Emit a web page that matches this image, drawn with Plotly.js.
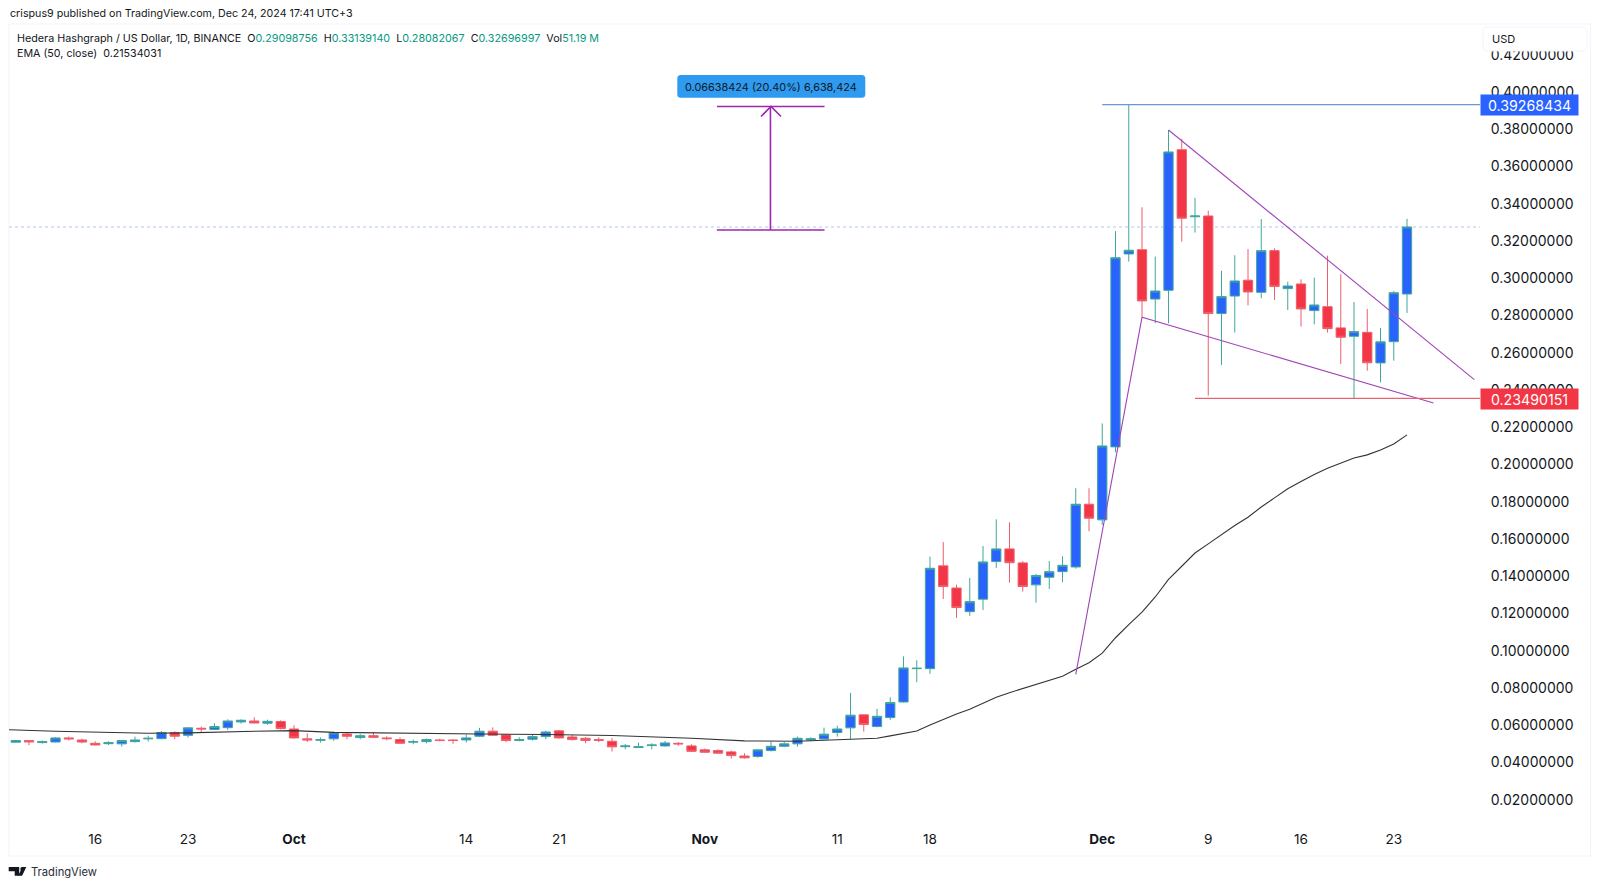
<!DOCTYPE html>
<html>
<head>
<meta charset="utf-8">
<script src="https://cdn.plot.ly/plotly-3.0.1.min.js"></script>
<style>html,body{margin:0;padding:0;background:#fff;overflow:hidden}#chart{width:1600px;height:888px}</style>
</head>
<body>
<div id="chart"></div>
<script>
const dates = ["2024-09-10","2024-09-11","2024-09-12","2024-09-13","2024-09-14","2024-09-15","2024-09-16","2024-09-17","2024-09-18","2024-09-19","2024-09-20","2024-09-21","2024-09-22","2024-09-23","2024-09-24","2024-09-25","2024-09-26","2024-09-27","2024-09-28","2024-09-29","2024-09-30",
"2024-10-01","2024-10-02","2024-10-03","2024-10-04","2024-10-05","2024-10-06","2024-10-07","2024-10-08","2024-10-09","2024-10-10","2024-10-11","2024-10-12","2024-10-13","2024-10-14","2024-10-15","2024-10-16","2024-10-17","2024-10-18","2024-10-19","2024-10-20","2024-10-21","2024-10-22","2024-10-23","2024-10-24","2024-10-25","2024-10-26","2024-10-27","2024-10-28","2024-10-29","2024-10-30","2024-10-31",
"2024-11-01","2024-11-02","2024-11-03","2024-11-04","2024-11-05","2024-11-06","2024-11-07","2024-11-08","2024-11-09","2024-11-10","2024-11-11","2024-11-12","2024-11-13","2024-11-14","2024-11-15","2024-11-16","2024-11-17","2024-11-18","2024-11-19","2024-11-20","2024-11-21","2024-11-22","2024-11-23","2024-11-24","2024-11-25","2024-11-26","2024-11-27","2024-11-28","2024-11-29","2024-11-30",
"2024-12-01","2024-12-02","2024-12-03","2024-12-04","2024-12-05","2024-12-06","2024-12-07","2024-12-08","2024-12-09","2024-12-10","2024-12-11","2024-12-12","2024-12-13","2024-12-14","2024-12-15","2024-12-16","2024-12-17","2024-12-18","2024-12-19","2024-12-20","2024-12-21","2024-12-22","2024-12-23","2024-12-24"];
const opens = [.0503,.0512,.0501,.0504,.0526,.0515,.0497,.0495,.0494,.0506,.0521,.0522,.0555,.0540,.0578,.0571,.0581,.0612,.0617,.0605,.0614,
.0574,.0521,.0513,.0521,.0547,.0528,.0538,.0526,.0517,.0503,.0506,.0515,.0515,.0515,.0535,.0562,.0542,.0512,.0519,.0533,.0564,.0531,.0524,.0517,.0508,.0479,.0474,.0485,.0483,.0497,.0483,
.0462,.0458,.0451,.0429,.0426,.0458,.0481,.0494,.0515,.0520,.0555,.0580,.0650,.0587,.0635,.0719,.0898,.0898,.1450,.1331,.1204,.1271,.1473,.1541,.1466,.1348,.1389,.1419,.1444,.1781,
.1697,.2089,.3125,.3148,.2883,.2930,.3685,.3325,.3329,.2805,.2899,.2984,.2919,.3143,.2939,.2964,.2821,.2842,.2728,.2683,.2704,.2540,.2654,.29098756];
const highs = [.0515,.0513,.0512,.0531,.0533,.0522,.0508,.0508,.0515,.0533,.0538,.0563,.0562,.0583,.0587,.0605,.0626,.0626,.0637,.0624,.0621,
.0594,.0551,.0528,.0560,.0558,.0547,.0558,.0535,.0529,.0517,.0522,.0522,.0519,.0544,.0580,.0583,.0547,.0530,.0544,.0565,.0569,.0542,.0530,.0530,.0526,.0494,.0501,.0497,.0510,.0504,.0492,
.0469,.0465,.0458,.0444,.0465,.0508,.0504,.0533,.0530,.0581,.0592,.0768,.0651,.0682,.0744,.0964,.0943,.1500,.1578,.1349,.1385,.1557,.1700,.1684,.1476,.1407,.1476,.1501,.1867,.1867,
.2215,.3248,.3926843,.3376,.3111,.3791,.3743,.3427,.3358,.3035,.3118,.3152,.3313,.3155,.2976,.2989,.2998,.3116,.3016,.2867,.2830,.2728,.2926,.33139140];
const lows = [.0501,.0487,.0495,.0503,.0512,.0497,.0487,.0488,.0479,.0501,.0506,.0519,.0519,.0528,.0555,.0569,.0569,.0603,.0605,.0596,.0572,
.0522,.0504,.0501,.0510,.0519,.0519,.0526,.0513,.0494,.0492,.0497,.0508,.0494,.0501,.0530,.0537,.0503,.0508,.0512,.0519,.0522,.0512,.0497,.0504,.0453,.0465,.0472,.0465,.0479,.0483,.0451,
.0447,.0440,.0415,.0415,.0420,.0453,.0476,.0479,.0508,.0519,.0533,.0519,.0560,.0583,.0623,.0716,.0825,.0870,.1272,.1170,.1181,.1213,.1439,.1360,.1312,.1253,.1326,.1362,.1435,.1636,
.1670,.2060,.3084,.2788,.2753,.2753,.3191,.3240,.2364,.2529,.2703,.2849,.2887,.2878,.2824,.2735,.2747,.2703,.2534,.23490151,.2498,.2436,.2552,.28082067];
const closes = [.0512,.0504,.0506,.0526,.0521,.0504,.0488,.0501,.0512,.0515,.0524,.0555,.0535,.0580,.0574,.0587,.0617,.0621,.0606,.0615,.0576,
.0526,.0515,.0517,.0553,.0535,.0538,.0529,.0522,.0497,.0506,.0517,.0512,.0512,.0526,.0562,.0540,.0512,.0517,.0533,.0558,.0526,.0517,.0512,.0513,.0478,.0483,.0479,.0488,.0499,.0494,.0454,
.0449,.0444,.0431,.0419,.0462,.0481,.0494,.0524,.0522,.0546,.0574,.0648,.0598,.0642,.0716,.0902,.0900,.1437,.1339,.1226,.1258,.1471,.1541,.1467,.1339,.1398,.1419,.1453,.1781,.1706,
.2094,.3105,.3145,.2873,.2926,.3673,.3317,.3329,.2805,.2896,.2980,.2921,.3143,.2950,.2953,.2830,.2851,.2724,.2678,.2708,.2541,.2653,.2917,.32696997];

const emaDates = ["2024-09-09","2024-09-13","2024-09-20","2024-09-23","2024-09-28","2024-10-01","2024-10-04","2024-10-10","2024-10-15","2024-10-20","2024-10-25","2024-10-31","2024-11-04","2024-11-08","2024-11-09","2024-11-11","2024-11-12","2024-11-14","2024-11-15","2024-11-17","2024-11-18","2024-11-19","2024-11-20","2024-11-21","2024-11-22","2024-11-23","2024-11-24","2024-11-25","2024-11-26","2024-11-27","2024-11-28","2024-11-29","2024-11-30","2024-12-01","2024-12-02","2024-12-03","2024-12-04","2024-12-05","2024-12-06","2024-12-07","2024-12-08","2024-12-09","2024-12-10","2024-12-11","2024-12-12","2024-12-13","2024-12-14","2024-12-15","2024-12-16","2024-12-17","2024-12-18","2024-12-19","2024-12-20","2024-12-21","2024-12-22","2024-12-23","2024-12-24"];
const emaValues = [.0571,.0562,.0551,.0553,.0562,.0565,.0556,.0549,.0547,.0544,.0539,.0524,.0510,.0508,.0510,.0515,.0519,.0524,.0537,.0563,.0596,.0626,.0655,.0680,.0712,.0744,.0769,.0791,.0814,.0836,.0857,.0895,.0930,.0981,.1064,.1135,.1202,.1283,.1377,.1448,.1519,.1568,.1617,.1667,.1711,.1766,.1815,.1864,.1903,.1941,.1974,.2003,.2029,.2046,.2072,.2105,.21534031];

const upperWedgeDates = ["2024-12-06","2024-12-29 02:00"];
const upperWedgeValues = [.3791,.2450];
const lowerWedgeDates = ["2024-11-29","2024-12-04","2024-12-26"];
const lowerWedgeValues = [.0867,.2785,.2325];
const highLevelDates = ["2024-12-01","2024-12-29 12:14"];
const highLevel = .39268434;
const lowLevelDates = ["2024-12-08","2024-12-29 12:14"];
const lowLevel = .23490151;
const lastClose = .32696997;

const measureDates = ["2024-11-01 22:00","2024-11-10 01:00"];
const measureMidDate = "2024-11-05 23:00";
const measureBottom = .3254;
const measureTop = .3917;

const tickDates = ["2024-09-16","2024-09-23","2024-10-01","2024-10-14","2024-10-21","2024-11-01","2024-11-11","2024-11-18","2024-12-01","2024-12-09","2024-12-16","2024-12-23"];
const tickLabels = ["16","23","<b>Oct</b>","14","21","<b>Nov</b>","11","18","<b>Dec</b>","9","16","23"];
const priceTicks = [.02,.04,.06,.08,.10,.12,.14,.16,.18,.20,.22,.24,.26,.28,.30,.32,.34,.36,.38,.40,.42];

const L=9, R=1480, T=24, B=825;
const px = x => (x-L)/(R-L);
const py = y => 1-(y-T)/(B-T);
const FONT = 'Inter, "Liberation Sans", sans-serif';
const INK = '#131722';
const roundRect = (x0,y0,x1,y1,r) =>
  `M ${px(x0+r)} ${py(y0)} L ${px(x1-r)} ${py(y0)} Q ${px(x1)} ${py(y0)} ${px(x1)} ${py(y0+r)} L ${px(x1)} ${py(y1-r)} Q ${px(x1)} ${py(y1)} ${px(x1-r)} ${py(y1)} L ${px(x0+r)} ${py(y1)} Q ${px(x0)} ${py(y1)} ${px(x0)} ${py(y1-r)} L ${px(x0)} ${py(y0+r)} Q ${px(x0)} ${py(y0)} ${px(x0+r)} ${py(y0)} Z`;
const pathShape = (path,fill,line) => ({type:'path',xref:'paper',yref:'paper',path,fillcolor:fill,line:{color:line||'rgba(0,0,0,0)',width:line?1:0},layer:'above'});
const purple = '#a044b8';
const lineTrace = (x,y,color,width,dash) => ({type:'scatter',mode:'lines',x,y,hoverinfo:'skip',showlegend:false,cliponaxis:true,line:{color,width,dash:dash||'solid'}});

const traces = [
  {type:'candlestick',x:dates,open:opens,high:highs,low:lows,close:closes,hoverinfo:'skip',showlegend:false,whiskerwidth:0,
   increasing:{line:{color:'#3fa89b',width:1},fillcolor:'#2962ff'},
   decreasing:{line:{color:'#ee5f6b',width:1},fillcolor:'#f23645'}},
  lineTrace(emaDates,emaValues,'#333333',1.1),
  lineTrace(upperWedgeDates,upperWedgeValues,purple,1.1),
  lineTrace(lowerWedgeDates,lowerWedgeValues,purple,1.1),
  lineTrace(highLevelDates,highLevelDates.map(()=>highLevel),'#6a97dc',1.3),
  lineTrace(lowLevelDates,lowLevelDates.map(()=>lowLevel),'#e8636f',1.3),
  lineTrace(measureDates,measureDates.map(()=>measureTop),'#9c27b0',1.6),
  lineTrace(measureDates,measureDates.map(()=>measureBottom),'#9c27b0',1.6),
  lineTrace([measureMidDate,measureMidDate],[measureBottom,measureTop],'#9c27b0',1.6)
];

const green = c => `<span style="color:#089981">${c}</span>`;
const note = (text,x,y,size,extra) => Object.assign({xref:'paper',yref:'paper',x:px(x),y:py(y),text,showarrow:false,xanchor:'left',yanchor:'middle',align:'left',borderpad:0,font:{family:FONT,size,color:INK}},extra||{});
const tag = (text,yMid,bg) => ({xref:'paper',yref:'paper',x:px(1529.5),y:py(yMid),text,showarrow:false,xanchor:'center',yanchor:'middle',bgcolor:bg,width:97,height:20,borderpad:0,font:{family:FONT,size:14.2,color:'#ffffff'}});

const logoX=8.7, logoY=867;
const layout = {
  width:1600,height:888,
  margin:{l:L,r:1600-R,t:T,b:888-B,pad:0},
  paper_bgcolor:'#ffffff',plot_bgcolor:'#ffffff',
  boxgap:0.3,boxgroupgap:0,
  showlegend:false,
  xaxis:{type:'date',range:["2024-09-09 11:47","2024-12-29 12:14"],rangeslider:{visible:false},showgrid:false,zeroline:false,showline:false,
    tickmode:'array',tickvals:tickDates,ticktext:tickLabels,ticks:'outside',ticklen:2,tickcolor:'rgba(0,0,0,0)',
    tickfont:{family:FONT,size:13.6,color:INK}},
  yaxis:{side:'right',range:[.00583,.43601],showgrid:false,zeroline:false,showline:false,
    tickmode:'array',tickvals:priceTicks,tickformat:'.8f',ticks:'outside',ticklen:7,tickcolor:'rgba(0,0,0,0)',ticklabelshift:1,
    tickfont:{family:FONT,size:14,color:INK}},
  shapes:[
    {type:'rect',xref:'paper',yref:'paper',x0:px(9),x1:px(1590.5),y0:py(856),y1:py(24),line:{color:'#f0f3fa',width:1},layer:'below'},
    {type:'line',xref:'paper',yref:'y',x0:0,x1:1,y0:lastClose,y1:lastClose,line:{color:'#b4c6ec',width:1,dash:'dot'},layer:'below'},
    {type:'path',xref:'paper',yref:'paper',path:`M ${px(761)} ${py(116.5)} L ${px(771)} ${py(106.5)} L ${px(781)} ${py(116.5)}`,line:{color:'#9c27b0',width:1.6},layer:'above'},
    pathShape(roundRect(677.3,75,865.3,97.7,3.5),'#2e9bf0'),
    pathShape(roundRect(1483,27,1587,51,5),'#ffffff','#f0f3fa'),
    pathShape(`M ${px(logoX)} ${py(logoY)} L ${px(logoX+10.5)} ${py(logoY)} L ${px(logoX+10.5)} ${py(logoY+8.7)} L ${px(logoX+6)} ${py(logoY+8.7)} L ${px(logoX+6)} ${py(logoY+4.2)} L ${px(logoX)} ${py(logoY+4.2)} Z`,'#131722'),
    pathShape(`M ${px(logoX+11.6)} ${py(logoY+2.1)} Q ${px(logoX+11.6)} ${py(logoY)} ${px(logoX+13.5)} ${py(logoY)} Q ${px(logoX+15.4)} ${py(logoY)} ${px(logoX+15.4)} ${py(logoY+2.1)} Q ${px(logoX+15.4)} ${py(logoY+4.2)} ${px(logoX+13.5)} ${py(logoY+4.2)} Q ${px(logoX+11.6)} ${py(logoY+4.2)} ${px(logoX+11.6)} ${py(logoY+2.1)} Z`,'#131722'),
    pathShape(`M ${px(logoX+13.5)} ${py(logoY)} L ${px(logoX+17.6)} ${py(logoY)} L ${px(logoX+13.4)} ${py(logoY+8.7)} L ${px(logoX+9.6)} ${py(logoY+8.7)} Z`,'#131722')
  ],
  annotations:[
    note('crispus9 published on TradingView.com, Dec 24, 2024 17:41 UTC+3',9,14,10.7),
    note(`Hedera Hashgraph / US Dollar, 1D, BINANCE  O${green('0.29098756')}  H${green('0.33139140')}  L${green('0.28082067')}  C${green('0.32696997')}  Vol${green('51.19 M')}`,16,38.5,10.75),
    note('EMA (50, close)  0.21534031',16,54,10.7),
    note('USD',1491,39,11),
    note('TradingView',30,872,11.2,{font:{family:FONT,size:11.2,color:'#2a2e39'}}),
    Object.assign(note('0.06638424 (20.40%) 6,638,424',771.3,87,10.9),{xanchor:'center'}),
    tag('0.39268434',104.7,'#2962ff'),
    tag('0.23490151',398.7,'#f23645')
  ]
};
Plotly.newPlot('chart',traces,layout,{displayModeBar:false,staticPlot:true});
</script>
</body>
</html>
